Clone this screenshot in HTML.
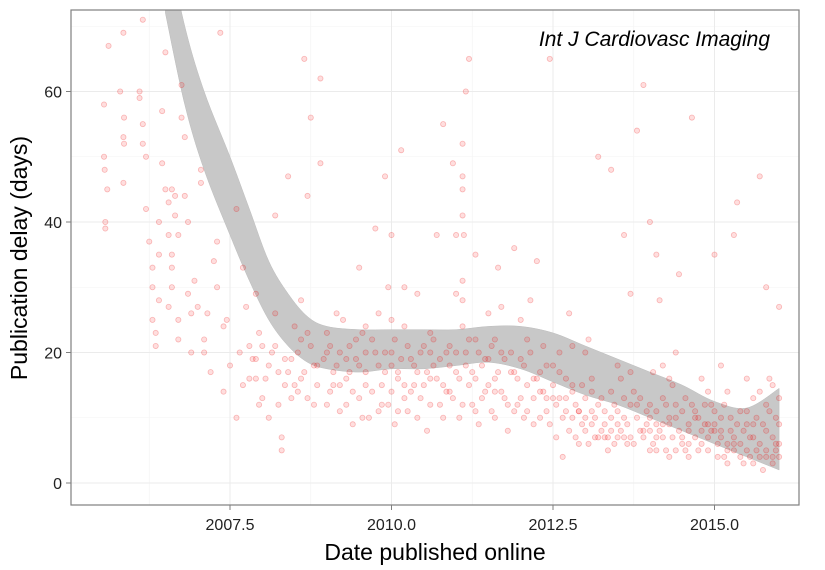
<!DOCTYPE html>
<html><head><meta charset="utf-8">
<style>
body{margin:0;background:#fff;}
svg{display:block;font-family:"Liberation Sans",sans-serif;}
</style></head>
<body>
<svg id="chart" width="825" height="570" viewBox="0 0 825 570">
<defs><clipPath id="clip"><rect x="71" y="10" width="728" height="495"/></clipPath></defs>
<rect x="71" y="10" width="728" height="495" fill="#fff"/>
<g id="grid"></g>
<g id="ribbon" clip-path="url(#clip)"></g>
<g id="pts" clip-path="url(#clip)"></g>
<rect x="71" y="10" width="728" height="495" fill="none" stroke="#7f7f7f" stroke-width="1.2"/>
<g id="axes"></g>
<text x="770" y="46" text-anchor="end" font-size="21" font-style="italic" fill="#000">Int J Cardiovasc Imaging</text>
<text x="435" y="560" text-anchor="middle" font-size="23" fill="#000">Date published online</text>
<text transform="translate(27,258) rotate(-90)" text-anchor="middle" font-size="23" fill="#000">Publication delay (days)</text>
</svg>
<script>
const xTicks=[2007.5,2010.0,2012.5,2015.0];
const xTickLabels=["2007.5","2010.0","2012.5","2015.0"];
const yTicks=[0,20,40,60];
const yTickLabels=["0","20","40","60"];
const ribbonYears=[2006.5,2006.8,2007.1,2007.5,2007.8,2008.1,2008.4,2008.7,2009.0,2009.5,2010.0,2010.5,2011.0,2011.5,2012.0,2012.5,2013.0,2013.5,2014.0,2014.5,2015.0,2015.5,2016.0];
const ribbonLower=[72,58,48,38,31,25,21,18.5,17.5,17,17.5,17.5,18,18.5,17.5,15.5,13.5,12,10,8,6,4,2];
const ribbonUpper=[84,70,60,50,42,34,29,25.5,24,23.5,23.5,23.5,23.5,24,24,23,21,19,17,15,12.5,11.5,14.5];
const pubPoints=[
[2005.55,58],[2005.55,50],[2005.56,48],[2005.57,40],[2005.57,39],[2005.6,45],[2005.62,67],[2005.8,60],[2005.85,69],[2005.85,53],[2005.85,46],[2005.86,52],[2005.86,56],[2006.1,60],[2006.1,59],[2006.15,71],[2006.15,55],[2006.15,52],[2006.2,50],[2006.2,42],[2006.25,37],[2006.3,33],[2006.3,30],[2006.3,25],[2006.35,21],[2006.35,23],[2006.4,28],[2006.4,35],[2006.4,40],[2006.45,49],[2006.45,57],[2006.5,66],[2006.5,45],[2006.55,43],[2006.55,38],[2006.55,27],[2006.6,30],[2006.6,33],[2006.6,35],[2006.6,45],[2006.65,44],[2006.65,41],[2006.7,38],[2006.7,22],[2006.7,25],[2006.75,56],[2006.75,61],[2006.8,53],[2006.8,44],[2006.85,40],[2006.85,29],[2006.9,20],[2006.9,26],[2006.95,31],[2007.0,27],[2007.05,46],[2007.05,48],[2007.1,22],[2007.1,20],[2007.15,26],[2007.2,17],[2007.25,34],[2007.3,37],[2007.3,30],[2007.35,69],[2007.4,24],[2007.4,14],[2007.45,25],[2007.5,18],[2007.6,10],[2007.6,42],[2007.65,20],[2007.7,15],[2007.75,27],[2007.8,21],[2007.85,19],[2007.9,16],[2007.95,23],[2008.0,13],[2008.1,18],[2008.15,20],[2008.2,41],[2008.25,12],[2008.3,7],[2008.3,5],[2008.35,15],[2008.4,47],[2008.45,19],[2008.5,24],[2008.55,14],[2008.6,16],[2008.6,22],[2008.65,65],[2008.7,44],[2008.75,56],[2008.8,12],[2008.85,18],[2008.9,62],[2008.9,49],[2009.0,20],[2009.05,14],[2009.1,17],[2009.15,26],[2009.2,11],[2009.25,25],[2009.3,16],[2009.35,21],[2009.4,9],[2009.45,19],[2009.5,13],[2009.55,23],[2009.6,15],[2009.65,10],[2009.7,22],[2009.75,39],[2009.8,18],[2009.85,12],[2009.9,47],[2009.95,30],[2010.0,14],[2010.0,20],[2010.05,9],[2010.1,17],[2010.15,51],[2010.2,24],[2010.25,11],[2010.3,19],[2010.35,15],[2010.4,29],[2010.45,13],[2010.5,21],[2010.55,8],[2010.6,16],[2010.65,18],[2010.7,38],[2010.75,12],[2010.8,55],[2010.85,20],[2010.9,14],[2010.95,49],[2011.0,17],[2011.05,10],[2011.1,31],[2011.1,45],[2011.1,52],[2011.1,24],[2011.12,38],[2011.15,60],[2011.15,20],[2011.2,65],[2011.2,15],[2011.25,12],[2011.3,22],[2011.35,9],[2011.4,18],[2011.45,14],[2011.5,26],[2011.55,11],[2011.6,16],[2011.65,33],[2011.7,20],[2011.75,13],[2011.8,8],[2011.85,17],[2011.9,36],[2011.95,12],[2012.0,19],[2012.05,10],[2012.1,15],[2012.15,28],[2012.2,9],[2012.25,34],[2012.3,14],[2012.35,21],[2012.4,11],[2012.45,65],[2012.5,18],[2012.55,7],[2012.6,13],[2012.65,4],[2012.7,16],[2012.75,26],[2012.8,10],[2012.85,12],[2012.9,6],[2012.95,15],[2013.0,8],[2013.05,22],[2013.1,11],[2013.15,7],[2013.2,50],[2013.25,13],[2013.3,9],[2013.35,5],[2013.4,48],[2013.45,12],[2013.5,7],[2013.55,16],[2013.6,10],[2013.65,6],[2013.7,29],[2013.75,14],[2013.8,54],[2013.85,8],[2013.9,61],[2013.95,11],[2014.0,5],[2014.05,17],[2014.1,9],[2014.15,28],[2014.2,7],[2014.25,12],[2014.3,4],[2014.35,15],[2014.4,10],[2014.45,32],[2014.5,6],[2014.55,13],[2014.6,8],[2014.65,56],[2014.7,11],[2014.75,5],[2014.8,16],[2014.85,9],[2014.9,7],[2014.95,12],[2015.0,35],[2015.05,6],[2015.1,10],[2015.15,4],[2015.2,14],[2015.25,8],[2015.3,5],[2015.35,43],[2015.4,11],[2015.45,3],[2015.5,9],[2015.55,7],[2015.6,13],[2015.65,5],[2015.7,47],[2015.75,2],[2015.8,8],[2015.85,16],[2015.9,4],[2015.95,10],[2016.0,6],[2016.0,27],
[2009.3,19],[2009.6,20],[2009.9,17],[2010.2,15],[2010.4,17],[2010.6,20],[2010.8,15],[2011.3,16],[2011.6,14],[2011.9,17],[2012.2,16],[2012.5,13],[2012.8,15],[2013.1,9],[2013.4,10],[2013.7,7],[2014.0,8],[2014.3,9],[2014.6,6],[2014.9,9],[2015.2,6],[2015.5,5],[2015.8,4],[2013.2,7],[2013.5,9],[2013.8,12],[2014.1,7],[2014.4,5],[2014.7,10],[2015.0,8],[2015.3,7],[2015.6,3],[2015.9,7],[2012.9,11],[2012.3,17],[2011.5,19],[2010.9,18],[2010.1,16],[2009.2,15],[2008.8,18],[2008.4,17],[2008.0,21],[2007.8,16],[2012.0,25],[2013.0,20],[2014.2,18],[2015.1,18],[2015.7,14],[2011.0,29],[2009.8,26],[2008.6,28],[2007.7,33],
[2007.9,19],[2007.95,12],[2008.05,16],[2008.1,10],[2008.2,21],[2008.25,17],[2008.35,19],[2008.45,13],[2008.5,15],[2008.55,20],[2008.65,17],[2008.7,13],[2008.75,21],[2008.85,15],[2008.95,19],[2009.0,12],[2009.05,21],[2009.1,15],[2009.15,18],[2009.2,20],[2009.3,12],[2009.35,17],[2009.4,14],[2009.45,22],[2009.5,18],[2009.55,10],[2009.6,17],[2009.7,14],[2009.75,20],[2009.8,11],[2009.85,15],[2009.9,20],[2009.95,12],[2010.0,18],[2010.05,22],[2010.1,11],[2010.15,19],[2010.2,13],[2010.25,21],[2010.3,14],[2010.35,18],[2010.4,10],[2010.45,20],[2010.5,15],[2010.55,17],[2010.6,12],[2010.65,22],[2010.7,16],[2010.75,19],[2010.8,10],[2010.85,14],[2010.9,21],[2010.95,13],[2011.0,20],[2011.05,16],[2011.1,12],[2011.15,18],[2011.2,22],[2011.25,17],[2011.3,11],[2011.35,20],[2011.4,13],[2011.45,19],[2011.5,15],[2011.55,21],[2011.6,10],[2011.65,17],[2011.7,14],[2011.75,19],[2011.8,12],[2011.85,20],[2011.9,11],[2011.95,16],[2012.0,13],[2012.05,18],[2012.1,11],[2012.15,20],[2012.2,13],[2012.25,16],[2012.3,10],[2012.35,14],[2012.4,18],[2012.45,9],[2012.5,15],[2012.55,12],[2012.6,17],[2012.65,10],[2012.7,13],[2012.75,8],[2012.8,14],[2012.85,7],[2012.9,11],[2012.95,9],[2013.0,13],[2013.05,6],[2013.1,14],[2013.15,10],[2013.2,12],[2013.25,8],[2013.3,11],[2013.35,7],[2013.4,14],[2013.45,6],[2013.5,11],[2013.55,8],[2013.6,13],[2013.65,9],[2013.7,12],[2013.75,6],[2013.8,10],[2013.85,13],[2013.9,7],[2013.95,9],[2014.0,12],[2014.05,6],[2014.1,11],[2014.15,8],[2014.2,13],[2014.25,5],[2014.3,10],[2014.35,7],[2014.4,12],[2014.45,8],[2014.5,11],[2014.55,5],[2014.6,9],[2014.65,12],[2014.7,7],[2014.75,10],[2014.8,6],[2014.85,12],[2014.9,5],[2014.95,8],[2015.0,11],[2015.05,4],[2015.1,8],[2015.15,12],[2015.2,5],[2015.25,10],[2015.3,6],[2015.35,9],[2015.4,4],[2015.45,8],[2015.5,11],[2015.55,4],[2015.6,7],[2015.65,10],[2015.7,6],[2015.75,9],[2015.8,5],[2015.85,11],[2015.9,3],[2015.95,6],[2016.0,9],[2016.0,4],[2013.3,7],[2013.6,7],[2013.9,8],[2014.2,9],[2014.5,7],[2014.8,8],[2015.1,7],[2015.4,6],[2015.7,4],[2015.95,5],[2014.1,5],[2014.6,4],[2015.2,3],[2013.4,8],[2012.7,11],[2012.4,13],[2013.0,10],[2014.0,10],[2015.0,9],[2015.8,12],[2014.3,16],[2013.7,17],[2012.6,20],[2011.6,22],[2010.6,23],[2009.6,24],[2008.7,23],[2008.2,26],[2007.9,29],[2010.2,30],[2011.1,28],[2011.3,35],[2011.7,27],[2012.1,22],[2012.8,21],[2013.5,18],[2014.4,20],[2015.5,16],[2015.9,15],[2016.0,13],[2015.6,9],[2014.9,14],[2013.1,16],[2010.0,25],[2009.0,23],[2011.0,38],[2011.1,41],[2011.1,47],[2010.0,38],[2009.5,33],[2013.6,38],[2014.0,40],[2015.3,38],[2015.8,30],[2014.1,35]
];
const X=v=>68.5+(v-2005)*64.6, Y=v=>483-v*6.525;
const NS="http://www.w3.org/2000/svg";
function mk(tag,attrs,parent){const e=document.createElementNS(NS,tag);for(const k in attrs)e.setAttribute(k,attrs[k]);parent.appendChild(e);return e;}
const grid=document.getElementById('grid'),axes=document.getElementById('axes');
[2006.25,2008.75,2011.25,2013.75].forEach(v=>{const l=mk('line',{x1:X(v),x2:X(v),y1:10,y2:505,stroke:'#f3f3f3','stroke-width':0.6},grid);});
[10,30,50,70].forEach(v=>{const l=mk('line',{x1:71,x2:799,y1:Y(v),y2:Y(v),stroke:'#f3f3f3','stroke-width':0.6},grid);});
xTicks.forEach((v,i)=>{const l=mk('line',{x1:X(v),x2:X(v),y1:10,y2:505,stroke:'#ebebeb','stroke-width':1},grid);
const t=mk('line',{x1:X(v),x2:X(v),y1:505,y2:510,stroke:'#7f7f7f'},axes);
const s=mk('text',{x:X(v),y:530,'text-anchor':'middle','font-size':16,fill:'#222'},axes);s.textContent=xTickLabels[i];});
yTicks.forEach((v,i)=>{const l=mk('line',{x1:71,x2:799,y1:Y(v),y2:Y(v),stroke:'#ebebeb','stroke-width':1},grid);
const t=mk('line',{x1:66,x2:71,y1:Y(v),y2:Y(v),stroke:'#7f7f7f'},axes);
const s=mk('text',{x:62,y:Y(v)+6,'text-anchor':'end','font-size':16,fill:'#222'},axes);s.textContent=yTickLabels[i];});
const pg=document.getElementById('pts');
pubPoints.forEach(p=>{const c=mk('circle',{cx:X(p[0]),cy:Y(p[1]),r:2.6,fill:'rgba(255,0,0,0.13)',stroke:'rgba(230,0,0,0.25)','stroke-width':0.8},pg);});
function spline(pts){let s='';for(let i=0;i<pts.length-1;i++){const p0=pts[Math.max(0,i-1)],p1=pts[i],p2=pts[i+1],p3=pts[Math.min(pts.length-1,i+2)];
const c1=[p1[0]+(p2[0]-p0[0])/6,p1[1]+(p2[1]-p0[1])/6],c2=[p2[0]-(p3[0]-p1[0])/6,p2[1]-(p3[1]-p1[1])/6];
s+=' C'+c1.join(',')+' '+c2.join(',')+' '+p2.join(',');}return s;}
const up=ribbonYears.map((v,i)=>[X(v),Y(ribbonUpper[i])]);
const lo=ribbonYears.map((v,i)=>[X(v),Y(ribbonLower[i])]).reverse();
const d='M'+up[0].join(',')+spline(up)+' L'+lo[0].join(',')+spline(lo)+'Z';
const rb=mk('path',{d:d,fill:'#c8c8c8',stroke:'#bdbdbd','stroke-width':0.5},document.getElementById('ribbon'));


</script>
</body></html>
